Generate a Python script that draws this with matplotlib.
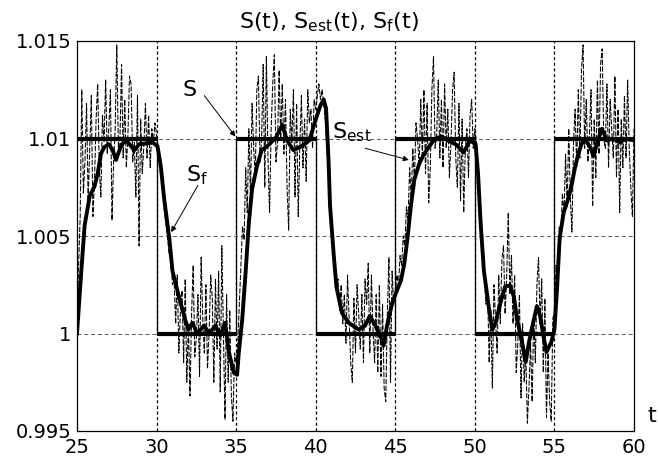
import numpy as np
import matplotlib
matplotlib.use("Agg")
import matplotlib.pyplot as plt

# true signal S(t): step edges and levels
step_t = [25, 30, 35, 40, 45, 50, 55, 60]
step_level = [1.01, 1.0, 1.01, 1.0, 1.01, 1.0, 1.01]

# estimate S_est(t)
t_est = [25.0, 25.27, 25.48, 25.8, 26.1, 26.3, 26.5, 26.7, 27.0, 27.25, 27.45, 27.8, 28.1, 28.6, 28.9,
         29.75, 30.06, 30.27, 30.48, 30.8, 31.0, 31.4, 31.8, 32.0, 32.25, 32.56, 32.98, 33.3, 33.7, 34.0,
         34.3, 34.54, 34.85, 35.06, 35.17, 35.38, 35.6, 35.8, 36.0, 36.3, 36.6, 36.95, 37.5, 37.9, 38.2,
         38.6, 39.1, 39.6, 39.97, 40.3, 40.5, 40.65, 40.8, 40.9, 41.13, 41.3, 41.65, 42.07, 42.7, 43.1,
         43.4, 43.75, 44.06, 44.27, 44.48, 44.8, 45.1, 45.35, 45.56, 45.77, 45.98, 46.2, 46.5, 46.8, 47.1,
         47.5, 47.9, 48.3, 48.8, 49.3, 49.7, 50.05, 50.2, 50.36, 50.57, 50.9, 51.1, 51.3, 51.6, 51.9,
         52.2, 52.45, 52.66, 52.97, 53.2, 53.4, 53.7, 53.9, 54.1, 54.3, 54.5, 54.8, 55.0, 55.17, 55.33,
         55.58, 55.9, 56.1, 56.3, 56.5, 56.7, 56.9, 57.25, 57.45, 57.77, 57.98, 58.3, 58.7, 59.1, 59.5, 60.0]
s_est = [1.0, 1.0032, 1.00555, 1.00705, 1.00755, 1.0082, 1.0092, 1.00955, 1.0097, 1.0094, 1.0089, 1.0097,
         1.0099, 1.0094, 1.0097, 1.0098, 1.0096, 1.00855, 1.00688, 1.00488, 1.0032, 1.0019, 1.0007, 1.0002,
         1.00055, 1.0, 1.0004, 1.0, 1.0004, 0.9999, 1.00055, 0.99905, 0.998, 0.99788, 0.99905, 1.0007,
         1.0032, 1.0057, 1.0074, 1.00855, 1.0094, 1.0096, 1.01005, 1.0107, 1.0099, 1.0094, 1.0096, 1.0099,
         1.0109, 1.0117, 1.012, 1.01155, 1.009, 1.00655, 1.00405, 1.0024, 1.00105, 1.00055, 1.0002, 1.0004,
         1.0009, 1.0004, 0.9999, 0.99938, 1.0004, 1.00155, 1.0022, 1.0027, 1.00355, 1.0049, 1.00655, 1.0079,
         1.0087, 1.0092, 1.00955, 1.01, 1.0101, 1.0099, 1.0097, 1.0093, 1.0099, 1.0097, 1.0082, 1.0057,
         1.0032, 1.0012, 1.0002, 1.00055, 1.00155, 1.0024, 1.00247, 1.0019, 1.0007, 0.99955, 0.99855, 0.99955,
         1.0007, 1.0014, 1.0009, 0.9999, 0.99905, 0.99955, 1.0002, 1.0024, 1.0049, 1.0062, 1.007, 1.0077,
         1.00855, 1.0092, 1.0097, 1.01, 1.00955, 1.0091, 1.01, 1.0105, 1.0099, 1.01, 1.0098, 1.01, 1.0099]

# noisy filtered signal S_f(t), one value every 0.1 from t=25.0 to t=60.0
sf_25_30 = [1.0000, 1.0035, 1.0060, 1.0125, 1.0072, 1.0088, 1.0118, 1.0068, 1.0095, 1.0122,
            1.0060, 1.0078, 1.0110, 1.0128, 1.0085, 1.0070, 1.0112, 1.0098, 1.0130, 1.0092,
            1.0105, 1.0125, 1.0058, 1.0088, 1.0105, 1.0148, 1.0095, 1.0100, 1.0138, 1.0090,
            1.0120, 1.0085, 1.0102, 1.0132, 1.0128, 1.0088, 1.0098, 1.0070, 1.0122, 1.0045,
            1.0110, 1.0082, 1.0096, 1.0118, 1.0090, 1.0112, 1.0085, 1.0105, 1.0098, 1.0108]
sf_30_35 = [1.0102, 1.0095, 1.0090, 1.0080, 1.0072, 1.0062, 1.0055, 1.0048, 1.0040, 1.0038,
            1.0025, 1.0028, 1.0005, 1.0030, 0.9990, 1.0012, 1.0022, 0.9985, 1.0028, 0.9975,
            1.0005, 0.9968, 1.0010, 1.0035, 0.9988, 0.9998, 1.0020, 0.9978, 1.0039, 1.0008,
            0.9990, 1.0025, 0.9982, 1.0000, 1.0030, 1.0018, 0.9975, 1.0028, 0.9992, 1.0032,
            0.9970, 1.0045, 1.0002, 0.9956, 1.0020, 0.9975, 1.0012, 0.9968, 0.9955, 0.9990]
sf_35_40 = [0.9985, 0.9995, 1.0015, 1.0035, 1.0055, 1.0048, 1.0085, 1.0062, 1.0105, 1.0070,
            1.0118, 1.0095, 1.0080, 1.0125, 1.0132, 1.0088, 1.0100, 1.0138, 1.0075, 1.0142,
            1.0090, 1.0062, 1.0105, 1.0128, 1.0143, 1.0088, 1.0098, 1.0135, 1.0100, 1.0128,
            1.0092, 1.0120, 1.0075, 1.0053, 1.0115, 1.0098, 1.0125, 1.0070, 1.0118, 1.0060,
            1.0095, 1.0122, 1.0085, 1.0110, 1.0078, 1.0125, 1.0108, 1.0115, 1.0095, 1.0120]
sf_40_45 = [1.0115, 1.0122, 1.0128, 1.0120, 1.0125, 1.0118, 1.0110, 1.0095, 1.0082, 1.0065,
            1.0052, 1.0040, 1.0032, 1.0022, 1.0028, 1.0012, 1.0025, 1.0005, 1.0020, 0.9995,
            1.0030, 1.0008, 0.9985, 0.9975, 1.0018, 0.9990, 1.0025, 1.0010, 0.9992, 1.0020,
            0.9985, 1.0028, 1.0015, 1.0036, 0.9990, 1.0030, 1.0002, 0.9985, 1.0020, 0.9980,
            1.0025, 0.9978, 1.0015, 0.9972, 0.9965, 1.0010, 1.0039, 0.9975, 1.0032, 1.0015]
sf_45_50 = [1.0020, 1.0030, 1.0025, 1.0040, 1.0035, 1.0050, 1.0045, 1.0065, 1.0058, 1.0085,
            1.0070, 1.0095, 1.0078, 1.0108, 1.0100, 1.0085, 1.0120, 1.0090, 1.0125, 1.0082,
            1.0118, 1.0067, 1.0085, 1.0125, 1.0142, 1.0095, 1.0102, 1.0130, 1.0090, 1.0120,
            1.0085, 1.0128, 1.0095, 1.0115, 1.0080, 1.0098, 1.0125, 1.0134, 1.0090, 1.0075,
            1.0118, 1.0068, 1.0110, 1.0062, 1.0095, 1.0105, 1.0080, 1.0112, 1.0120, 1.0095]
sf_50_55 = [1.0105, 1.0098, 1.0085, 1.0065, 1.0050, 1.0035, 1.0028, 1.0015, 1.0022, 0.9985,
            1.0012, 0.9972, 1.0025, 1.0008, 0.9990, 1.0030, 1.0005, 1.0038, 1.0045, 1.0010,
            1.0030, 1.0062, 1.0020, 1.0040, 1.0005, 1.0030, 0.9980, 0.9995, 1.0020, 0.9967,
            1.0005, 0.9975, 0.9990, 0.9954, 0.9972, 0.9995, 0.9965, 1.0010, 0.9985, 1.0025,
            1.0039, 1.0005, 1.0028, 0.9980, 1.0018, 0.9957, 0.9990, 0.9965, 0.9955, 1.0008]
sf_55_60 = [1.0010, 1.0035, 1.0028, 1.0055, 1.0048, 1.0072, 1.0060, 1.0092, 1.0065, 1.0105,
            1.0070, 1.0052, 1.0098, 1.0115, 1.0085, 1.0125, 1.0090, 1.0135, 1.0148, 1.0095,
            1.0120, 1.0088, 1.0102, 1.0125, 1.0065, 1.0110, 1.0080, 1.0130, 1.0092, 1.0138,
            1.0146, 1.0100, 1.0095, 1.0128, 1.0085, 1.0120, 1.0105, 1.0090, 1.0132, 1.0080,
            1.0115, 1.0062, 1.0110, 1.0085, 1.0122, 1.0090, 1.0130, 1.0095, 1.0075, 1.0060,
            1.0105]

x_ticks = [25, 30, 35, 40, 45, 50, 55, 60]
y_ticks = [0.995, 1.0, 1.005, 1.01, 1.015]
y_tick_labels = ['0.995', '1', '1.005', '1.01', '1.015']

plt.rcParams['font.family'] = ['DejaVu Sans']

s_f = np.array(sf_25_30 + sf_30_35 + sf_35_40 + sf_40_45 + sf_45_50 + sf_50_55 + sf_55_60)
t_f = np.arange(len(s_f)) / 10.0 + 25.0

fig = plt.figure(figsize=(6.59, 4.58), dpi=100)
ax = fig.add_axes([77 / 659, 1 - 431 / 458, 557 / 659, 390 / 458])

# grid
for yv in [1.0, 1.005, 1.01]:
    ax.axhline(yv, color='0.35', lw=0.7, dashes=(4, 3), zorder=1)
for xv in x_ticks[1:-1]:
    ax.axvline(xv, color='k', lw=0.9, dashes=(2.5, 2), zorder=1)

# noisy S_f
ax.plot(t_f, s_f, color='k', lw=0.75, dashes=(5, 1.5), zorder=2)

# S: thin edges, thick levels
for i, lev in enumerate(step_level):
    ax.plot([step_t[i], step_t[i + 1]], [lev, lev], color='k', lw=3.0, solid_capstyle='butt', zorder=3)
    if i > 0:
        ax.plot([step_t[i], step_t[i]], [step_level[i - 1], lev], color='k', lw=0.9, zorder=3)

# S_est
ax.plot(t_est, s_est, color='k', lw=2.8, zorder=4)

ax.set_xlim(25, 60)
ax.set_ylim(0.995, 1.015)
ax.set_xticks(x_ticks)
ax.set_yticks(y_ticks)
ax.set_yticklabels(y_tick_labels)
ax.tick_params(length=0, labelsize=14, pad=4)
ax.tick_params(axis='x', pad=5)
for sp in ax.spines.values():
    sp.set_linewidth(0.9)

arrow = dict(arrowstyle='-|>', color='k', lw=0.7, mutation_scale=8, shrinkA=0, shrinkB=0)
ax.text(32.05, 1.0125, 'S', fontsize=16, ha='center', va='center')
ax.annotate('', xy=(34.95, 1.0101), xytext=(33.0, 1.0122), arrowprops=arrow)
ax.text(32.55, 1.0081, r'S$_{\mathregular{f}}$', fontsize=16, ha='center', va='center')
ax.annotate('', xy=(30.92, 1.0052), xytext=(32.6, 1.0076), arrowprops=arrow)
ax.text(42.3, 1.0103, r'S$_{\mathregular{est}}$', fontsize=16, ha='center', va='center')
ax.annotate('', xy=(45.85, 1.0089), xytext=(43.1, 1.0095), arrowprops=arrow)

fig.text(329 / 659, 1 - 22 / 458,
         r'S(t), S$_{\mathregular{est}}$(t), S$_{\mathregular{f}}$(t)',
         fontsize=16, ha='center', va='center')
fig.text(652 / 659, 1 - 416 / 458, 't', fontsize=16, ha='center', va='center')

fig.savefig('out.png', dpi=100)
